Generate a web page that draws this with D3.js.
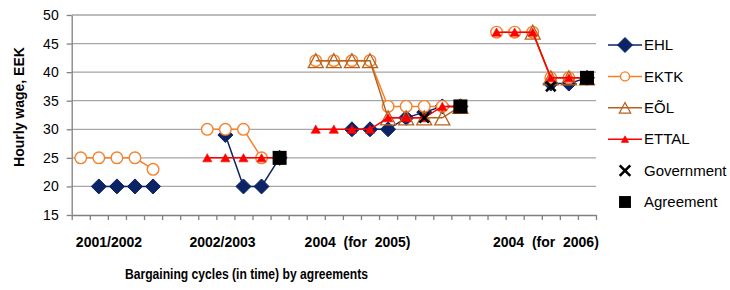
<!DOCTYPE html>
<html>
<head>
<meta charset="utf-8">
<script src="https://cdn.jsdelivr.net/npm/d3@7"></script>
<style>
  body { margin: 0; background: #fff; }
  svg { font-family: "Liberation Sans", Arial, sans-serif; }
</style>
</head>
<body>
<div id="chart"></div>
<script>
// 29 category slots along the time axis (gaps between bargaining cycles are null)
const slots = d3.range(29);
const cycleLabels = ["2001/2002", "2002/2003", "2004  (for  2005)", "2004  (for  2006)"];
const cyclePos = [2.06, 8.34, 15.81, 26.23];   // label anchors in slot units
const yTicks = [15, 20, 25, 30, 35, 40, 45, 50];

const EHL   = [null,20,20,20,20, null,null, null,29,20,20,25, null, null,null,30,30,30,32,33,34,34, null, null,null,null,38,38,39];
const EKTK  = [25,25,25,25,23, null,null, 30,30,30,25,25, null, 42,42,42,42,34,34,34,34,34, null, 47,47,47,39,39,39];
const EOL   = [null,null,null,null,null, null,null, null,null,null,null,null, null, 42,42,42,42,32,32,32,32,34, null, null,null,47,39,39,39];
const ETTAL = [null,null,null,null,null, null,null, 25,25,25,25,25, null, 30,30,30,30,32,32,32,34,34, null, 47,47,47,39,39,39];
const government = [null,null,null,null,null, null,null, null,null,null,null,null, null, null,null,null,null,null,null,32,null,null, null, null,null,null,37.5,null,null];
const agreement  = [null,null,null,null,null, null,null, null,null,null,null,25, null, null,null,null,null,null,null,null,null,34, null, null,null,null,null,null,39];

const width = 730, height = 290;
const svg = d3.select("#chart").append("svg").attr("width", width).attr("height", height);

const x = d3.scaleLinear().domain([0, slots.length]).range([71.7, 596]);
const y = d3.scaleLinear().domain([15, 50]).range([215, 15]);
const cx = i => x(i + 0.5);

// gridlines
svg.append("g").selectAll("line").data(yTicks.slice(1)).join("line")
    .attr("x1", x(0)).attr("x2", x(slots.length))
    .attr("y1", d => y(d)).attr("y2", d => y(d))
    .attr("stroke", "#a6a6a6").attr("stroke-width", 1.3);

// axes
let yAxis = svg.append("g").attr("transform", `translate(${x(0)},0)`)
    .call(d3.axisLeft(y).tickValues(yTicks).tickSize(5).tickPadding(8).tickSizeOuter(0));
let xAxis = svg.append("g").attr("transform", `translate(0,${y(15)})`)
    .call(d3.axisBottom(x).tickValues(d3.range(slots.length + 1)).tickSize(5).tickFormat("").tickSizeOuter(0));
[yAxis, xAxis].forEach(a => {
    a.selectAll("path, line").attr("stroke", "#808080").attr("stroke-width", 1.3);
    a.selectAll("text").attr("fill", "#000").style("font-size", "14px");
});

// marker shapes
const shapes = {
    diamond: (g, s) => g.append("path").attr("d", `M0,${-7.5*s}L${7.5*s},0L0,${7.5*s}L${-7.5*s},0Z`)
        .attr("fill", "#0c2466").attr("stroke", "#0c2466"),
    circle: (g, s) => g.append("circle").attr("r", 5.8 * s)
        .attr("fill", "#fff").attr("stroke", "#f7812a").attr("stroke-width", 1.4),
    triangle: (g, s) => g.append("path").attr("d", `M0,${-7*s}L${7.5*s},${7*s}L${-7.5*s},${7*s}Z`)
        .attr("fill", "none").attr("stroke", "#b8621f").attr("stroke-width", 1.3),
    smallTri: (g, s) => g.append("path").attr("d", `M0,${-4.2*s}L${4.6*s},${4*s}L${-4.6*s},${4*s}Z`)
        .attr("fill", "#ff0000").attr("stroke", "#ff0000").attr("stroke-width", 0.6),
    cross: (g, s) => g.append("path").attr("d", `M${-4.8*s},${-4.8*s}L${4.8*s},${4.8*s}M${-4.8*s},${4.8*s}L${4.8*s},${-4.8*s}`)
        .attr("stroke", "#000").attr("stroke-width", 2.6),
    square: (g, s) => g.append("rect").attr("x", -7*s).attr("y", -7*s).attr("width", 14*s).attr("height", 14*s)
        .attr("fill", "#000")
};

const series = [
    { name: "EHL",        values: EHL,        color: "#0c2466", shape: "diamond",  line: true,  ls: 1 },
    { name: "EKTK",       values: EKTK,       color: "#f7812a", shape: "circle",   line: true,  ls: 0.78 },
    { name: "EÕL",        values: EOL,        color: "#b8621f", shape: "triangle", line: true,  ls: 0.75 },
    { name: "ETTAL",      values: ETTAL,      color: "#ff0000", shape: "smallTri", line: true,  ls: 0.8 },
    { name: "Government", values: government, color: "#000",    shape: "cross",    line: false, ls: 1.1 },
    { name: "Agreement",  values: agreement,  color: "#000",    shape: "square",   line: false, ls: 0.85 }
];

const lineGen = d3.line().defined(d => d.v != null).x(d => cx(d.i)).y(d => y(d.v));

for (let s of series) {
    let pts = slots.map(i => ({ i: i, v: s.values[i] }));
    let g = svg.append("g");
    if (s.line) {
        g.append("path").datum(pts).attr("d", lineGen)
            .attr("fill", "none").attr("stroke", s.color).attr("stroke-width", 1.5);
    }
    pts.filter(d => d.v != null).forEach(d => {
        let m = g.append("g").attr("transform", `translate(${cx(d.i)},${y(d.v)})`);
        shapes[s.shape](m, 1);
    });
}

// category labels
svg.append("g").selectAll("text").data(cycleLabels).join("text")
    .attr("x", (d, i) => x(cyclePos[i])).attr("y", 247)
    .attr("text-anchor", "middle").style("font-size", "14px").style("font-weight", "bold")
    .style("white-space", "pre").attr("xml:space", "preserve")
    .text(d => d);

// axis titles
svg.append("text").attr("x", 246.5).attr("y", 279).attr("text-anchor", "middle")
    .style("font-size", "15.5px").style("font-weight", "bold")
    .attr("textLength", 243).attr("lengthAdjust", "spacingAndGlyphs")
    .text("Bargaining cycles (in time) by agreements");
svg.append("text").attr("transform", "translate(23.5,107) rotate(-90)").attr("text-anchor", "middle")
    .style("font-size", "14px").style("font-weight", "bold")
    .text("Hourly wage, EEK");

// legend
let legend = svg.append("g");
series.forEach((s, k) => {
    let ly = 45 + 31.4 * k;
    let item = legend.append("g").attr("transform", `translate(0,${ly})`);
    if (s.line) {
        item.append("line").attr("x1", 608).attr("x2", 642)
            .attr("stroke", s.color).attr("stroke-width", 1.5);
    }
    shapes[s.shape](item.append("g").attr("transform", "translate(625,0)"), s.ls);
    item.append("text").attr("x", 644).attr("dy", "0.35em")
        .style("font-size", "15px").text(s.name);
});
</script>
</body>
</html>
